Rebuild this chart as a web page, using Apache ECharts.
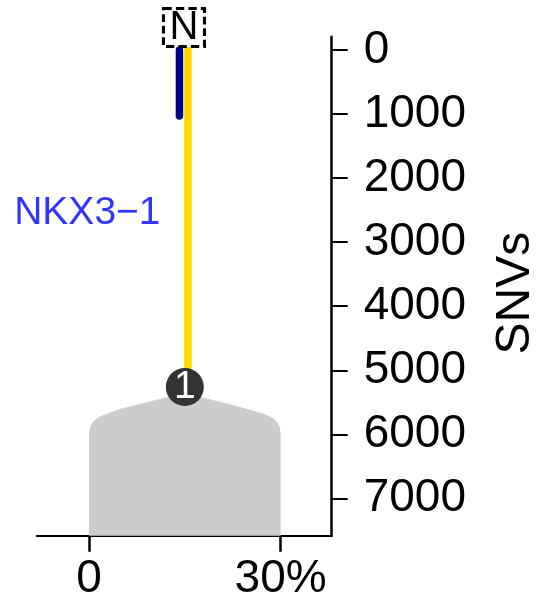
<!DOCTYPE html>
<html>
<head>
<meta charset="utf-8">
<script src="https://cdn.jsdelivr.net/npm/echarts@6/dist/echarts.min.js"></script>
<style>html,body{margin:0;padding:0;background:#fff;}#c{width:553px;height:605px;}</style>
</head>
<body>
<div id="c"></div>
<script>
// ---- data ----
const yTicks = [0, 1000, 2000, 3000, 4000, 5000, 6000, 7000];
const xTicks = [0, 30];
const xTickLabels = {0: '0', 30: '30%'};
const yName = 'SNVs';
// clone 1 node (CCF %, SNVs)
const cloneLabel = '1';
const cloneNode = [15.0, 5262];
// trunk branch from normal to clone 1
const trunkBranch = [[15.49, -45], [15.49, 5262]];
// driver annotation bar
const driverName = 'NKX3\u22121';
const driverBar = [[14.16, 0], [14.16, 1030]];
const driverLabelPos = [11.2, 2545];
// normal root
const rootLabel = 'N';
const rootNode = [14.87, -351];
// clone CCF distribution outline (x: CCF %, y: SNVs)
const shapeX = [0, 0, 0.15, 0.5, 1.1, 1.9, 2.8, 4.85, 9.03, 12.16, 15.0, 18.42, 22.07, 25.71, 27.3, 28.3, 29.1, 29.6, 29.9, 30, 30];
const shapeY = [7583, 6000, 5900, 5820, 5760, 5715, 5680, 5606, 5501, 5423, 5356, 5439, 5532, 5632, 5680, 5720, 5770, 5830, 5900, 6000, 7583];
// axis ranges
const xMin = -8.19, xMax = 38.0;
const yMin = -208, yMax = 7583;

const FONT = "'Liberation Sans', Arial, sans-serif";
const chart = echarts.init(document.getElementById('c'), null, {renderer: 'canvas'});
chart.setOption({
  animation: false,
  textStyle: {fontFamily: FONT},
  grid: {left: 36.7, right: 221.3, top: 36.7, bottom: 69.3, containLabel: false},
  xAxis: {
    type: 'value', min: xMin, max: xMax, position: 'bottom',
    axisLine: {onZero: false, lineStyle: {color: '#000', width: 2}},
    axisTick: {show: true, length: 16, lineStyle: {color: '#000', width: 2.5}, customValues: xTicks},
    axisLabel: {customValues: xTicks, formatter: v => xTickLabels[v], color: '#000', fontSize: 46, margin: 21, fontFamily: FONT},
    splitLine: {show: false}
  },
  yAxis: {
    type: 'value', min: yMin, max: yMax, inverse: true, position: 'right',
    name: yName, nameLocation: 'middle', nameGap: 160, nameRotate: 90,
    nameTextStyle: {fontSize: 48, color: '#000', fontFamily: FONT, padding: [0, 14, 0, 0]},
    axisLine: {onZero: false, lineStyle: {color: '#000', width: 2.5}},
    axisTick: {show: true, length: 16, lineStyle: {color: '#000', width: 2}, customValues: yTicks},
    axisLabel: {customValues: yTicks, formatter: v => String(v), color: '#000', fontSize: 46, margin: 32, padding: [6, 0, 0, 0], fontFamily: FONT},
    splitLine: {show: false}
  },
  series: [
    {
      type: 'custom', z: 1, clip: false,
      data: [[shapeX[10], shapeY[10]]],
      renderItem: function (params, api) {
        return {
          type: 'polygon',
          shape: {points: shapeX.map((x, i) => api.coord([x, shapeY[i]]))},
          style: {fill: '#cccccc'}
        };
      }
    },
    {
      type: 'line', z: 2, data: trunkBranch, symbol: 'none', clip: false,
      lineStyle: {color: '#FFD700', width: 7.5, cap: 'butt'}
    },
    {
      type: 'line', z: 3, data: driverBar, symbol: 'none', clip: false,
      lineStyle: {color: '#000080', width: 7.5, cap: 'round'}
    },
    {
      type: 'scatter', z: 4, clip: false, data: [cloneNode], symbol: 'circle', symbolSize: 38,
      itemStyle: {color: '#333333', opacity: 1},
      label: {show: true, position: 'inside', formatter: cloneLabel, color: '#fff', fontSize: 39, fontFamily: FONT}
    },
    {
      type: 'scatter', z: 4, clip: false, data: [rootNode], symbol: 'rect', symbolSize: [41, 38],
      itemStyle: {color: 'rgba(0,0,0,0)', borderColor: '#000', borderWidth: 3, borderType: [8, 4], opacity: 1},
      label: {show: true, position: 'inside', formatter: rootLabel, color: '#000', fontSize: 40, fontFamily: FONT}
    },
    {
      type: 'scatter', z: 4, clip: false, data: [driverLabelPos], symbolSize: 0,
      label: {show: true, position: 'left', distance: 0, formatter: driverName, color: '#0000FF', fontSize: 39, fontFamily: FONT}
    }
  ]
});
</script>
</body>
</html>
